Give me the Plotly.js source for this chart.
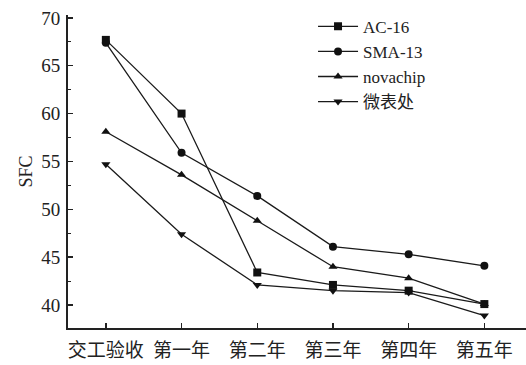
<!DOCTYPE html>
<html><head><meta charset="utf-8">
<script src="https://cdn.plot.ly/plotly-3.0.1.min.js"></script>
<style>body{margin:0;padding:0;background:#fff}#c{width:526px;height:365px}</style>
</head><body><div id="c"></div>
<script>
const categories = ["交工验收","第一年","第二年","第三年","第四年","第五年"];
const seriesNames = ["AC-16","SMA-13","novachip","微表处"];
const ac16 = [67.7, 60.0, 43.4, 42.1, 41.5, 40.1];
const sma13 = [67.4, 55.9, 51.4, 46.1, 45.3, 44.1];
const novachip = [58.1, 53.6, 48.8, 44.0, 42.8, 40.1];
const weibiaochu = [54.7, 47.4, 42.1, 41.5, 41.3, 38.9];
const yTicks = [40,45,50,55,60,65,70];

const FONT = "'Liberation Serif','Times New Roman','Noto Sans CJK SC',serif";
const symbols = ["square","circle","triangle-up","triangle-down"];
const all = [ac16, sma13, novachip, weibiaochu];
const idx = categories.map((_, i) => i);
const traces = all.map((vals, k) => ({
  type: "scatter", mode: "lines+markers", name: seriesNames[k],
  x: idx, y: vals,
  line: {color: "#1a1a1a", width: 1.3},
  marker: {symbol: symbols[k], size: 8, color: "#111"}
}));

const layout = {
  width: 526, height: 365,
  margin: {l: 68, r: 0, t: 15, b: 37},
  paper_bgcolor: "#fff", plot_bgcolor: "#fff",
  font: {family: FONT, color: "#222", size: 17},
  showlegend: true,
  legend: {x: 0.535, y: 1.02, xanchor: "left", yanchor: "top", bgcolor: "rgba(0,0,0,0)",
           font: {family: FONT, size: 17, color: "#222"}, tracegroupgap: 0, itemwidth: 40},
  xaxis: {
    range: [-0.5, 5.55], tickmode: "array", tickvals: idx, ticktext: categories,
    showgrid: false, zeroline: false, showline: true, linecolor: "#222", linewidth: 2,
    ticks: "inside", ticklen: 5, tickcolor: "#222", tickwidth: 1.5, ticklabelstandoff: 4,
    tickfont: {family: FONT, size: 19, color: "#222"}, fixedrange: true
  },
  yaxis: {
    range: [37.6, 70.3], tickmode: "array", tickvals: yTicks,
    showgrid: false, zeroline: false, showline: true, linecolor: "#222", linewidth: 2,
    ticks: "inside", ticklen: 5, tickcolor: "#222", tickwidth: 1.5, ticklabelstandoff: 2,
    minor: {dtick: 2.5, ticks: "inside", ticklen: 3, tickcolor: "#222", tickwidth: 1},
    tickfont: {family: FONT, size: 19, color: "#222"},
    title: {text: "SFC", font: {family: FONT, size: 18, color: "#222"}, standoff: 4},
    fixedrange: true
  }
};
Plotly.newPlot("c", traces, layout, {displayModeBar: false, staticPlot: true});
</script></body></html>
